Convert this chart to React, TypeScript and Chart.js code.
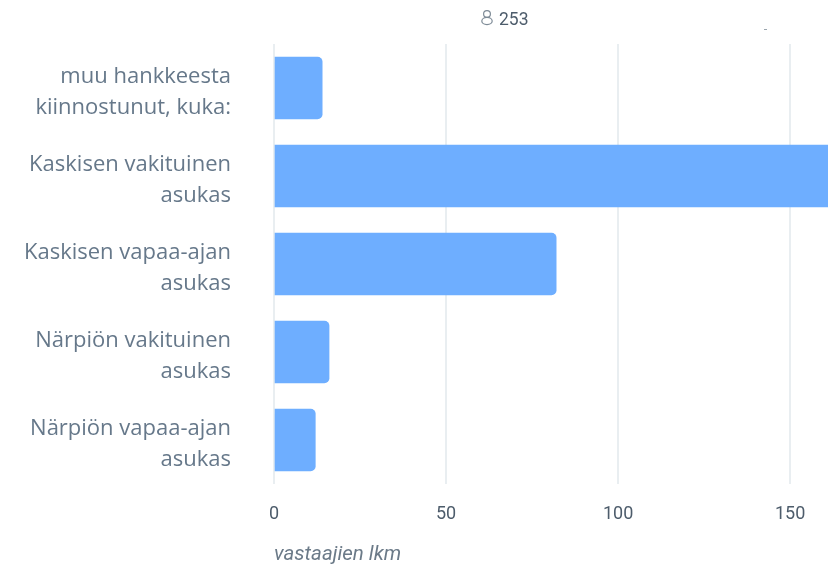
import React, { useEffect, useRef } from "react";
import { Chart, registerables } from "chart.js";

Chart.register(...registerables);

const categories: string[][] = [
  ["muu hankkeesta", "kiinnostunut, kuka:"],
  ["Kaskisen vakituinen", "asukas"],
  ["Kaskisen vapaa-ajan", "asukas"],
  ["Närpiön vakituinen", "asukas"],
  ["Närpiön vapaa-ajan", "asukas"],
];
const respondents: number[] = [14, 165, 82, 16, 12];
const totalLabel = "253";
const axisTitle = "vastaajien lkm";
const axisMax = 161;
const xTicks: number[] = [0, 50, 100, 150];

const headerPlugin = {
  id: "header",
  afterDraw(chart: Chart) {
    const ctx = chart.ctx;
    ctx.save();
    ctx.strokeStyle = "#7d8a96";
    ctx.lineWidth = 1.2;
    ctx.beginPath();
    ctx.arc(487, 14, 3.4, 0, Math.PI * 2);
    ctx.stroke();
    ctx.beginPath();
    ctx.ellipse(487, 21, 5.2, 3.6, 0, 0, Math.PI * 2);
    ctx.stroke();
    ctx.fillStyle = "#4d5c6b";
    ctx.font = "17.5px Roboto";
    ctx.textBaseline = "middle";
    ctx.textAlign = "left";
    ctx.fillText(totalLabel, 499, 21);
    ctx.fillStyle = "#9aa5ae";
    ctx.fillRect(764, 29, 3, 1);
    ctx.restore();
  },
};

export default function App() {
  const ref = useRef<HTMLCanvasElement>(null);
  useEffect(() => {
    const chart = new Chart(ref.current!, {
      type: "bar",
      data: {
        labels: categories,
        datasets: [
          {
            data: respondents,
            backgroundColor: "#6eaeff",
            borderRadius: { topLeft: 0, bottomLeft: 0, topRight: 5, bottomRight: 5 },
            borderSkipped: false,
            barThickness: 62,
          },
        ],
      },
      options: {
        indexAxis: "y",
        animation: false,
        responsive: false,
        layout: { autoPadding: false, padding: { top: 44, right: 0, bottom: 0, left: 0 } },
        plugins: { legend: { display: false }, tooltip: { enabled: false } },
        scales: {
          y: {
            afterFit(scale: any) {
              scale.width = 274;
              scale.paddingTop = 0;
              scale.paddingBottom = 0;
            },
            grid: { display: false },
            border: { display: false },
            ticks: {
              color: "#66788a",
              padding: 35,
              labelOffset: 4,
              font: { family: "'Open Sans'", size: 22, lineHeight: 1.41 },
            },
          },
          x: {
            min: 0,
            max: axisMax,
            afterFit(scale: any) {
              scale.height = 82;
              scale.paddingLeft = 0;
              scale.paddingRight = 0;
            },
            afterBuildTicks(scale: any) {
              scale.ticks = xTicks.map((value) => ({ value }));
            },
            grid: { color: "#e9eef1", lineWidth: 2, drawTicks: false },
            border: { display: false },
            ticks: {
              color: "#4d5c6b",
              padding: 20,
              maxRotation: 0,
              font: { family: "Roboto", size: 18 },
            },
            title: {
              display: true,
              text: axisTitle,
              align: "start",
              color: "#6b7a88",
              padding: { top: 15, bottom: -1 },
              font: { family: "Roboto", size: 20.5, style: "italic" },
            },
          },
        },
      },
      plugins: [headerPlugin],
    } as any);
    return () => chart.destroy();
  }, []);
  return (
    <canvas
      ref={ref}
      width={828}
      height={566}
      style={{ position: "absolute", left: 0, top: 0, width: 828, height: 566, filter: "blur(0.4px)" }}
    />
  );
}
